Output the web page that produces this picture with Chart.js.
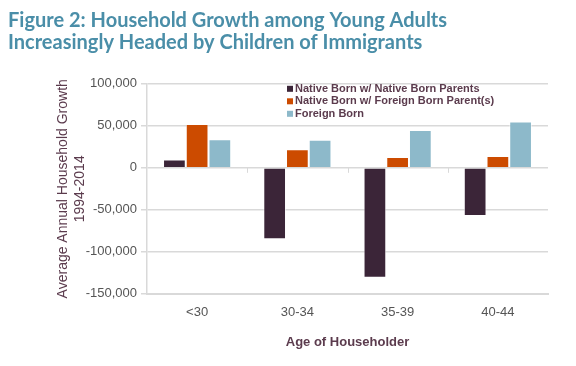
<!DOCTYPE html>
<html>
<head>
<meta charset="utf-8">
<script src="https://cdn.jsdelivr.net/npm/chart.js@4"></script>
<style>
  html, body { margin: 0; padding: 0; background: #fff; }
  #wrap { width: 576px; height: 366px; }
</style>
</head>
<body>
<div id="wrap"><canvas id="chart" width="576" height="366"></canvas></div>
<script>
// data
var ages = ['<30', '30-34', '35-39', '40-44'];
var nativeNative = [10000, -85000, -131000, -57500];
var nativeForeign = [52000, 22000, 13000, 14000];
var foreignBorn = [34000, 33500, 45000, 55000];
var yTicks = [100000, 50000, 0, -50000, -100000, -150000];

var titleLines = ['Figure 2: Household Growth among Young Adults', 'Increasingly Headed by Children of Immigrants'];
var yTitle = ['Average Annual Household Growth', '1994-2014'];
var xTitle = 'Age of Householder';

var gridColor = '#d9d9d9';
var labelColor = '#5b3b4d';
var tickFont = { family: '"Liberation Sans", Arial, sans-serif', size: 13 };

// legend inside the plot, one line per series
var insideLegend = {
    id: 'insideLegend',
    afterDraw: function(chart) {
        var ctx = chart.ctx;
        var x = chart.chartArea.left + 140;
        var y = chart.chartArea.top + 5;
        ctx.save();
        ctx.font = 'bold 11px "Liberation Sans", Arial, sans-serif';
        ctx.textBaseline = 'middle';
        chart.data.datasets.forEach(function(ds, i) {
            var yy = y + i * 12.5;
            ctx.fillStyle = ds.backgroundColor;
            ctx.fillRect(x, yy - 3, 6, 6);
            ctx.fillStyle = labelColor;
            ctx.fillText(ds.label, x + 8, yy);
        });
        ctx.restore();
    }
};

// little category ticks hanging under the zero line
var zeroTicks = {
    id: 'zeroTicks',
    afterDatasetsDraw: function(chart) {
        var xs = chart.scales.x, ys = chart.scales.y;
        var y0 = ys.getPixelForValue(0);
        var ctx = chart.ctx;
        ctx.save();
        ctx.strokeStyle = gridColor;
        ctx.lineWidth = 1;
        for (var i = 1; i < ages.length; i++) {
            var xx = Math.round((xs.getPixelForValue(i - 1) + xs.getPixelForValue(i)) / 2) + 0.5;
            ctx.beginPath();
            ctx.moveTo(xx, y0);
            ctx.lineTo(xx, y0 + 5);
            ctx.stroke();
        }
        ctx.restore();
    }
};

new Chart(document.getElementById('chart'), {
    type: 'bar',
    data: {
        labels: ages,
        datasets: [
            { label: 'Native Born w/ Native Born Parents', data: nativeNative, backgroundColor: '#3b2538' },
            { label: 'Native Born w/ Foreign Born Parent(s)', data: nativeForeign, backgroundColor: '#cc4b00' },
            { label: 'Foreign Born', data: foreignBorn, backgroundColor: '#8db9ca' }
        ]
    },
    options: {
        responsive: false,
        animation: false,
        devicePixelRatio: 1,
        layout: { padding: { left: 8, right: 28, top: 0, bottom: 12 } },
        datasets: {
            bar: {
                categoryPercentage: 0.68,
                barPercentage: 1,
                borderColor: 'rgba(255,255,255,0.6)',
                borderWidth: 1
            }
        },
        plugins: {
            legend: { display: false },
            tooltip: { enabled: false },
            title: {
                display: true,
                text: titleLines,
                align: 'start',
                color: '#4a8ea8',
                font: { family: 'Lato, sans-serif', size: 20, weight: 'bold', lineHeight: 1.12 },
                padding: { top: 9, bottom: 30 }
            }
        },
        scales: {
            x: {
                grid: { display: false, drawTicks: false },
                border: { display: true, color: gridColor, width: 2 },
                ticks: { color: '#555', font: tickFont, padding: 11 },
                title: {
                    display: true, text: xTitle, color: labelColor,
                    font: { family: '"Liberation Sans", Arial, sans-serif', size: 13, weight: 'bold' },
                    padding: { top: 3 }
                }
            },
            y: {
                min: -150000,
                max: 100000,
                afterBuildTicks: function(scale) {
                    scale.ticks = yTicks.map(function(v) { return { value: v }; });
                },
                afterFit: function(scale) { scale.width = 139; },
                grid: { color: gridColor, lineWidth: 1.5, tickLength: 6 },
                border: { display: true, color: gridColor, width: 1.5 },
                ticks: {
                    color: '#555',
                    font: tickFont,
                    padding: 4,
                    callback: function(v) { return v.toLocaleString('en-US'); }
                },
                title: {
                    display: true, text: yTitle, color: labelColor,
                    font: { family: '"Liberation Sans", Arial, sans-serif', size: 14 },
                    lineHeight: 1.0,
                    padding: { top: 47, bottom: 2 }
                }
            }
        }
    },
    plugins: [insideLegend, zeroTicks]
});
</script>
</body>
</html>
